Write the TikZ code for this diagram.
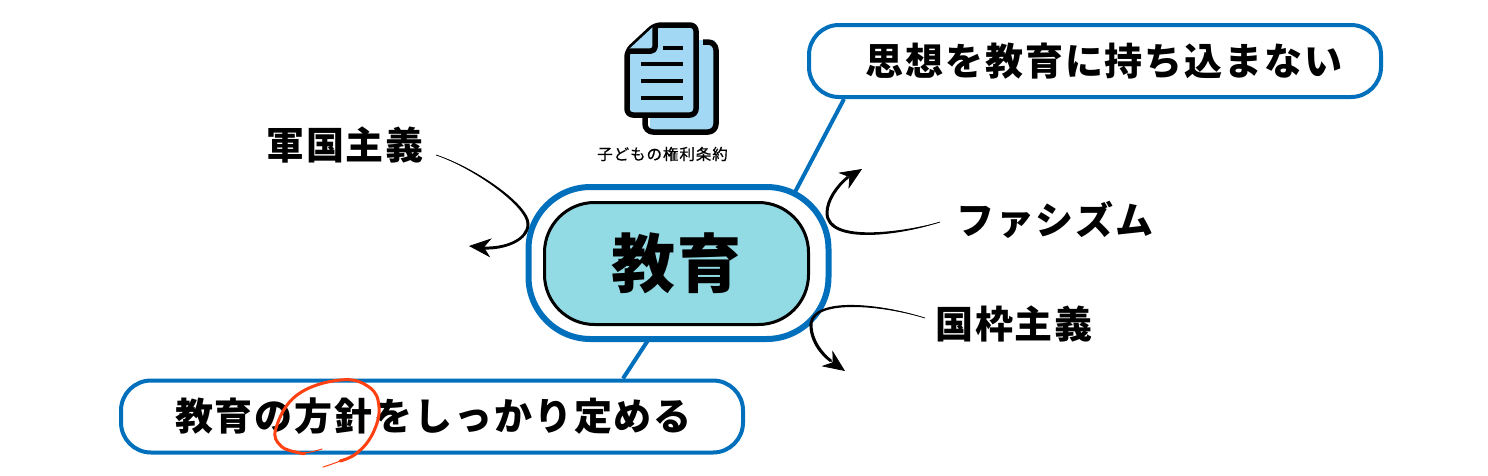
\documentclass[tikz,border=0pt]{standalone}
\usepackage{fontspec}
\usetikzlibrary{arrows.meta}
\newfontfamily\jpfont{Noto Sans CJK JP}
\definecolor{edublue}{HTML}{0070BC}
\definecolor{eduteal}{HTML}{92DBE4}
\definecolor{pageblue}{HTML}{A3D8F4}
\definecolor{penred}{HTML}{FF4010}
\begin{document}
\begin{tikzpicture}[x=1pt,y=-1pt]
      \tikzset{
        label/.style = {font=\jpfont\bfseries\fontsize{38}{42}\selectfont\addfontfeatures{LetterSpace=5}, inner sep=0pt},
        callout/.style = {rectangle, draw=edublue, fill=white, line width=4pt, rounded corners=30pt, minimum height=72pt, inner sep=0pt},
        curved/.style = {line width=0.7pt, -{Stealth[length=22pt,width=19pt,inset=7pt]}},
        spoke/.style = {draw=edublue, line width=4pt},
        sheet/.style = {draw=black, line width=5.5pt, line join=round}
      }
      \useasboundingbox (0,0) rectangle (1488,475);
      % centre
      \node (outer) at (678.5,263) [rectangle, draw=edublue, fill=white, line width=6pt, rounded corners=62pt, minimum width=300pt, minimum height=152pt] {};
      \node (edu) at (676.5,263.5) [rectangle, draw=black, fill=eduteal, line width=3pt, rounded corners=50pt, minimum width=264pt, minimum height=122pt, inner sep=0pt, font=\jpfont\bfseries\fontsize{64}{68}\selectfont\addfontfeatures{LetterSpace=3}] {教育};
      % callouts
      \node (think) at (1095,61) [callout, minimum width=572pt] {};
      \node (thinktext) at (1104,61) [label] {思想を教育に持ち込まない};
      \node (policy) at (432,416.5) [callout, minimum width=622pt] {};
      \node (policytext) at (433.5,416.5) [label] {教育の方針をしっかり定める};
      \draw [spoke] ([xshift=116pt,yshift=-9pt]outer.north)--([xshift=37pt]think.south west);
      \draw [spoke] ([xshift=-31pt,yshift=1pt]outer.south)--([xshift=191pt]policy.north);
      % labels
      \node (gun) at (345,145) [label] {軍国主義};
      \node (fas) at (1055,220) [label] {ファシズム};
      \node (koku) at (1014,324) [label] {国枠主義};
      \coordinate (gunstart) at ([xshift=12pt,yshift=-10pt]gun.east);
      \coordinate (fasstart) at ([xshift=-16pt,yshift=-2pt]fas.west);
      \coordinate (kokustart) at ([xshift=-10pt,yshift=6pt]koku.west);
      \coordinate (gunend) at (469,246);
      \coordinate (fasend) at (862,169);
      \coordinate (kokuend) at (845,371);
      \draw [curved] (gunstart) .. controls (475,168) and (528,205) .. (528,224) .. controls (528,240) and (505,249) .. (gunend);
      \draw [curved] (fasstart) .. controls (905,233) and (828,245) .. (827,213) .. controls (827,200) and (840,183) .. (fasend);
      \draw [curved] (kokustart) .. controls (880,304) and (815,298) .. (811,323) .. controls (810,340) and (825,357) .. (kokuend);
      % thickening towards the tips
      \fill (gunstart) .. controls (476,167.5) and (529.5,205) .. (529.5,224) .. controls (529.5,241) and (505,250.5) .. (483,249.5) -- (483,246.5) .. controls (505,247.5) and (526.5,239) .. (526.5,224) .. controls (526.5,206) and (474,168.5) .. (gunstart);
      \fill (fasstart) .. controls (905,234.5) and (826,247) .. (825.5,213) .. controls (825.5,200) and (835,186) .. (847,176) -- (849,178) .. controls (838,187) and (828.5,201) .. (828.5,213) .. controls (829,243) and (905,231.5) .. (fasstart);
      \fill (kokustart) .. controls (880,303) and (814,296.5) .. (809.5,323) .. controls (808.5,340) and (820,355) .. (830,362) -- (832,360) .. controls (823,353) and (812,340) .. (812.5,323) .. controls (816,300) and (880,305) .. (kokustart);
      % document icon
      \path [fill=pageblue] (650,40) rectangle (715,130);
      \path [fill=white] (640,24) rectangle (705,40);
      \draw [sheet, rounded corners=8pt] (703,42)--(716,42)--(716,132)--(645,132)--(645,116);
      \draw [sheet, fill=pageblue, rounded corners=6pt] (655,25)--(696,25)--(696,115)--(627,115)--(627,51)--cycle;
      \draw [sheet, rounded corners=4pt, fill=pageblue] (655,25)--(655,51)--(627,51);
      \draw [line width=3.6pt] (663,48)--(683,48);
      \draw [line width=3.6pt] (641,64)--(683,64);
      \draw [line width=3.6pt] (641,81)--(683,81);
      \draw [line width=3.6pt] (641,98)--(683,98);
      \node (rights) at (662.5,154) [font=\jpfont\fontsize{15.5}{18}\selectfont\addfontfeatures{LetterSpace=6,FakeBold=0.6}, inner sep=0pt] {子どもの権利条約};
      % pen circle
      \draw [penred, line width=1pt, line cap=round] plot [smooth, tension=0.7] coordinates {(322,449) (300,453) (281,446) (276,428) (297,395) (340,380) (369,387) (379,407) (373,433) (357,453) (323,467)};
      \draw [penred, line width=3pt, line cap=round] plot [smooth, tension=0.7] coordinates {(305,453) (300,453) (281,446) (276,428) (297,395) (340,380) (369,387) (379,407) (373,433) (357,453) (340,461)};
    \end{tikzpicture}
\end{document}
